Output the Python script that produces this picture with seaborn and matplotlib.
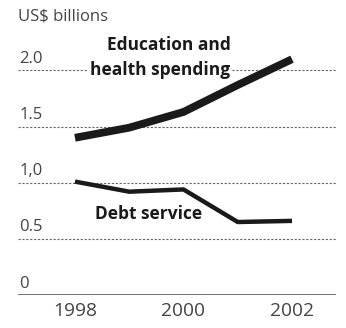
import matplotlib
matplotlib.use("Agg")
import matplotlib.pyplot as plt
import matplotlib.transforms as mtransforms
import seaborn as sns
import pandas as pd

years = [1998, 1999, 2000, 2001, 2002]
education_health = [1.40, 1.49, 1.63, 1.87, 2.10]
debt_service = [1.01, 0.92, 0.94, 0.65, 0.66]
ytick_values = [0, 0.5, 1.0, 1.5, 2.0]
ytick_labels = ["0", "0.5", "1,0", "1.5", "2.0"]
xtick_values = [1998, 2000, 2002]

sns.set_theme(style="white")
plt.rcParams["font.family"] = ["Open Sans", "DejaVu Sans"]

df = pd.DataFrame({
    "year": years * 2,
    "value": education_health + debt_service,
    "series": ["edu"] * len(years) + ["debt"] * len(years),
})

fig = plt.figure(figsize=(3.46, 3.28), dpi=100)
ax = fig.add_axes([0.052, 0.1006, 0.919, 0.808])

sns.lineplot(data=df[df.series == "edu"], x="year", y="value", ax=ax,
             color="#1a1a1a", linewidth=5.6, solid_capstyle="butt", zorder=4)
sns.lineplot(data=df[df.series == "debt"], x="year", y="value", ax=ax,
             color="#1a1a1a", linewidth=3.2, solid_capstyle="butt", zorder=4)

ax.set_xlim(1996.95, 2002.81)
ax.set_ylim(0, 2.36)

# dashed gridlines and solid zero baseline
for v in ytick_values[1:]:
    ax.axhline(v, color="#666666", linestyle=(0, (2.0, 1.5)), linewidth=0.8, zorder=1)
ax.axhline(0, color="#666666", linewidth=1.3, zorder=1)

for s in ax.spines.values():
    s.set_visible(False)
ax.set_yticks([])
ax.set_xlabel("")
ax.set_ylabel("")
ax.set_xticks(xtick_values)
ax.set_xticklabels([str(x) for x in xtick_values], fontsize=13.8, color="#444444")
ax.tick_params(axis="x", length=0, pad=5)

# y labels sit above their gridlines at the left edge
trans = mtransforms.blended_transform_factory(ax.transAxes, ax.transData)
for v, lab in zip(ytick_values, ytick_labels):
    ax.text(0.005, v + 0.03, lab, transform=trans, ha="left", va="bottom",
            fontsize=12, color="#444444", zorder=2)

fig.text(18 / 346, 1 - 17 / 328, "US$ billions", ha="left", va="center",
         fontsize=12, color="#444444")

# series labels
ax.text(1999.74, 2.225, "Education and", ha="center", va="center",
        fontsize=12.5, fontweight="bold", color="#1a1a1a", zorder=3,
        bbox=dict(facecolor="white", edgecolor="none", pad=1))
ax.text(1999.56, 2.0, "health spending", ha="center", va="center",
        fontsize=12.5, fontweight="bold", color="#1a1a1a", zorder=3,
        bbox=dict(facecolor="white", edgecolor="none", pad=2))
ax.text(1999.35, 0.72, "Debt service", ha="center", va="center",
        fontsize=12.5, fontweight="bold", color="#1a1a1a", zorder=3)

fig.savefig("out.png", dpi=100, facecolor="white")
